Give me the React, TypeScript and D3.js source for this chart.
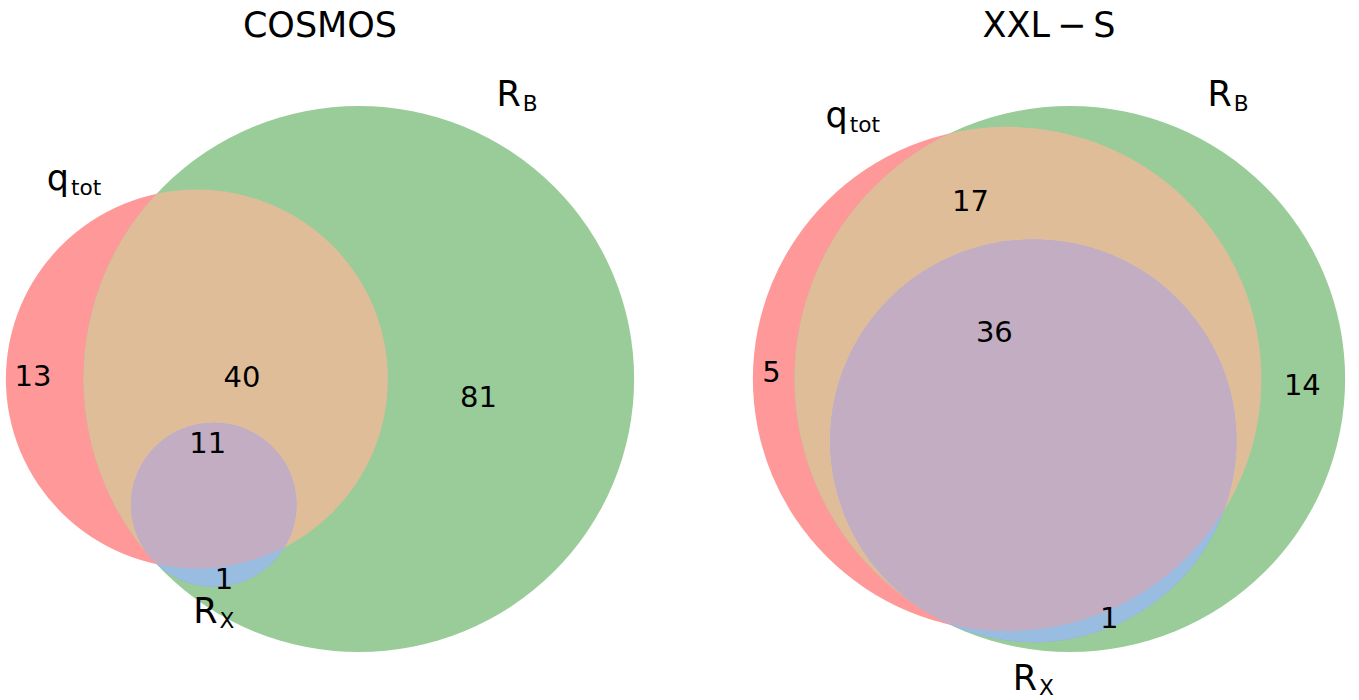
import React from 'react'
import * as d3 from 'd3'

// set names: [main text, subscript]
const setNames = [['q', 'tot'], ['R', 'B'], ['R', 'X']]
// region order as in matplotlib_venn: Abc, aBc, ABc, abC, AbC, aBC, ABC  (bit 1 = A, 2 = B, 4 = C)
const regionMasks = [1, 2, 3, 4, 5, 6, 7]
const panelTitles = ['COSMOS', 'XXL\u2009\u2212\u2009S']
const cosmosCounts = [13, 81, 40, 0, 0, 1, 11]
const xxlCounts = [5, 14, 17, 0, 0, 1, 36]
const panelCounts = [cosmosCounts, xxlCounts]

// styling / layout
const W = 1359
const H = 700
const panelCenterX = [320, 1049]
const panelMidY = 379
const panelHeight = 546
const xStretch = 1.0085
const titleY = 37
const font = 'DejaVu Sans, sans-serif'
const bigFont = 35
const numFont = 29
const setColors = [[1, 0, 0], [0, 0.5, 0], [0, 0, 1]]
const alpha = 0.4
const TOL = 1e-10

type Circ = { x: number; y: number; r: number }

function lensArea(R: number, r: number, d: number) {
  if (d >= R + r) return 0
  if (d <= Math.abs(R - r)) return Math.PI * Math.min(R, r) ** 2
  const a1 = r * r * Math.acos((d * d + r * r - R * R) / (2 * d * r))
  const a2 = R * R * Math.acos((d * d + R * R - r * r) / (2 * d * R))
  const a3 = 0.5 * Math.sqrt((-d + r + R) * (d + r - R) * (d - r + R) * (d + r + R))
  return a1 + a2 - a3
}

function distanceByArea(r1: number, r2: number, a: number) {
  const r = Math.min(r1, r2), R = Math.max(r1, r2)
  if (Math.abs(a) < TOL) return r + R
  if (Math.abs(Math.PI * r * r - a) < TOL) return R - r
  let lo = R - r, hi = R + r
  for (let i = 0; i < 200; i++) {
    const mid = (lo + hi) / 2
    if (lensArea(R, r, mid) > a) lo = mid
    else hi = mid
  }
  return (lo + hi) / 2
}

// same steps as matplotlib_venn's venn3 layout
function solveVenn3(counts: number[]): Circ[] {
  const total = d3.sum(counts)
  const share = (test: (m: number) => boolean) =>
    d3.sum(regionMasks.map((m, i) => (test(m) ? counts[i] : 0))) / total
  const areas = [0, 1, 2].map(s => share(m => !!(m & (1 << s))))
  const radii = areas.map(a => Math.sqrt(a / Math.PI))
  const pairs = [[0, 1], [1, 2], [2, 0]]
  const dists = pairs.map(([i, j]) =>
    distanceByArea(radii[i], radii[j], share(m => !!(m & (1 << i)) && !!(m & (1 << j)))))
  for (let i = 0; i < 3; i++) {
    const j = (i + 1) % 3, k = (i + 2) % 3
    if (dists[i] > dists[j] + dists[k]) {
      const [a, b] = dists[j] < dists[k] ? [j, k] : [k, j]
      dists[i] = dists[b] + dists[a] * 0.8
    }
  }
  const [dab, dbc, dac] = dists
  const cx = (dac * dac - dbc * dbc + dab * dab) / (2 * dab)
  const cy = dac * dac < cx * cx ? 0 : -Math.sqrt(dac * dac - cx * cx)
  const raw = [[0, 0], [dab, 0], [cx, cy]]
  const w = radii.map(r => r * r)
  const sw = d3.sum(w)
  const mx = d3.sum(raw, (c, i) => c[0] * w[i]) / sw
  const my = d3.sum(raw, (c, i) => c[1] * w[i]) / sw
  return raw.map(([x, y], i) => ({ x: x - mx, y: y - my, r: radii[i] }))
}

function regionColor(mask: number) {
  const members = [0, 1, 2].filter(s => mask & (1 << s))
  const f = members.length === 1 ? 1 : members.length === 2 ? 0.7 : 0.4
  const mix = [0, 1, 2].map(ch => Math.min(1, f * d3.sum(members, s => setColors[s][ch])))
  const c = mix.map(v => Math.round(255 * (alpha * v + 1 - alpha)))
  return d3.rgb(c[0], c[1], c[2]).formatHex()
}

const inside = (c: Circ, x: number, y: number) => Math.hypot(x - c.x, y - c.y) < c.r + 1e-9
const inRegion = (cs: Circ[], mask: number, x: number, y: number) =>
  cs.every((c, j) => inside(c, x, y) === !!(mask & (1 << j)))

// label spot of a region: mean of its arc midpoints weighted by arc span (degrees),
// on the largest piece; if that falls outside, pushed into the region along a ray
function regionLabel(cs: Circ[], mask: number, h: number) {
  const members = cs.filter((_, j) => mask & (1 << j))
  const x0 = d3.max(members, c => c.x - c.r)!, x1 = d3.min(members, c => c.x + c.r)!
  const y0 = d3.max(members, c => c.y - c.r)!, y1 = d3.min(members, c => c.y + c.r)!
  if (x1 <= x0 || y1 <= y0) return null
  const nx = Math.ceil((x1 - x0) / h) + 1, ny = Math.ceil((y1 - y0) / h) + 1
  const comp = new Int32Array(nx * ny)
  for (let j = 0; j < ny; j++)
    for (let i = 0; i < nx; i++)
      if (inRegion(cs, mask, x0 + i * h, y0 + j * h)) comp[j * nx + i] = -1
  const sizes = [0]
  const stack: number[] = []
  for (let s = 0; s < comp.length; s++) {
    if (comp[s] !== -1) continue
    const id = sizes.length
    let size = 0
    comp[s] = id
    stack.push(s)
    while (stack.length) {
      const p = stack.pop()!
      size++
      const pi = p % nx, pj = (p - pi) / nx
      const nb = [pi > 0 ? p - 1 : -1, pi < nx - 1 ? p + 1 : -1, pj > 0 ? p - nx : -1, pj < ny - 1 ? p + nx : -1]
      for (const q of nb) if (q >= 0 && comp[q] === -1) { comp[q] = id; stack.push(q) }
    }
    sizes.push(size)
  }
  const main = d3.maxIndex(sizes)
  if (sizes[main] < 20) return null
  const compAt = (x: number, y: number) => {
    const i = Math.round((x - x0) / h), j = Math.round((y - y0) / h)
    if (i < 0 || j < 0 || i >= nx || j >= ny) return 0
    return comp[j * nx + i]
  }

  // tangent points split arcs
  const cuts: number[][] = cs.map(() => [])
  cs.forEach((a, i) => cs.forEach((b, j) => {
    if (j <= i) return
    const d = Math.hypot(b.x - a.x, b.y - a.y)
    const internal = Math.abs(d - Math.abs(a.r - b.r)) < 1e-9 && d > 0
    const external = Math.abs(d - (a.r + b.r)) < 1e-9
    if (!internal && !external) return
    const big = a.r >= b.r ? a : b, small = big === a ? b : a
    const px = big.x + (big.r * (small.x - big.x)) / d
    const py = big.y + (big.r * (small.y - big.y)) / d
    cuts[i].push(Math.atan2(py - a.y, px - a.x))
    cuts[j].push(Math.atan2(py - b.y, px - b.x))
  }))

  const N = 3600
  let sw = 0, sx = 0, sy = 0
  cs.forEach((c, k) => {
    const ang = (i: number) => ((i + 0.5) / N) * 2 * Math.PI
    const flags = d3.range(N).map(i => {
      const t = ang(i)
      const px = c.x + c.r * Math.cos(t), py = c.y + c.r * Math.sin(t)
      return cs.every((o, j) => j === k || inside(o, px, py) === !!(mask & (1 << j)))
    })
    const cutBefore = new Array(N).fill(false)
    cuts[k].forEach(a => {
      const aa = ((a % (2 * Math.PI)) + 2 * Math.PI) % (2 * Math.PI)
      cutBefore[Math.floor((aa / (2 * Math.PI)) * N + 0.5) % N] = true
    })
    const runs: { start: number; count: number }[] = []
    const s0 = flags.findIndex((f, i) => !f || cutBefore[i])
    if (s0 < 0) {
      runs.push({ start: 0, count: N })
    } else {
      let count = 0, start = 0
      for (let step = 0; step < N; step++) {
        const idx = (s0 + step) % N
        if (flags[idx]) {
          if (count > 0 && cutBefore[idx]) { runs.push({ start, count }); count = 0 }
          if (count === 0) start = s0 + step
          count++
        } else if (count > 0) { runs.push({ start, count }); count = 0 }
      }
      if (count > 0) runs.push({ start, count })
    }
    const inward = mask & (1 << k) ? 1 : -1
    runs.forEach(({ start, count }) => {
      const t = ((start + (count - 1) / 2 + 0.5) / N) * 2 * Math.PI
      const mx = c.x + c.r * Math.cos(t), my = c.y + c.r * Math.sin(t)
      const probe = 2.5 * h * inward
      if (compAt(mx - probe * Math.cos(t), my - probe * Math.sin(t)) !== main) return
      const span = (count * 360) / N
      sw += span
      sx += span * mx
      sy += span * my
    })
  })
  if (sw === 0) return null
  const px = sx / sw, py = sy / sw
  if (inRegion(cs, mask, px, py) && compAt(px, py) === main) return { x: px, y: py }

  const mis = cs.findIndex((c, j) => inside(c, px, py) !== !!(mask & (1 << j)))
  const c = cs[mis]
  let dx = px - c.x, dy = py - c.y
  const L = Math.hypot(dx, dy)
  dx /= L; dy /= L
  if (!inside(c, px, py)) { dx = -dx; dy = -dy }
  let t1 = -1, t2 = -1
  for (let t = 0; t < 3; t += h / 2) {
    const ok = inRegion(cs, mask, px + dx * t, py + dy * t)
    if (ok && t1 < 0) t1 = t
    if (!ok && t1 >= 0) { t2 = t; break }
  }
  if (t1 < 0 || t2 < 0) return { x: px, y: py }
  const tm = t2 / 2
  return { x: px + dx * tm, y: py + dy * tm }
}

function SetLabel({ x, y, anchor, name }: { x: number; y: number; anchor: string; name: string[] }) {
  return (
    <text x={x} y={y} textAnchor={anchor} fontSize={bigFont} fontFamily={font} fill="#000">
      <tspan>{name[0]}</tspan>
      <tspan fontSize={bigFont * 0.62} dx={2} dy={5}>{name[1]}</tspan>
    </text>
  )
}

function VennPanel({ idx }: { idx: number }) {
  const counts = panelCounts[idx]
  const circles = solveVenn3(counts)
  const minX = d3.min(circles, c => c.x - c.r)!
  const maxX = d3.max(circles, c => c.x + c.r)!
  const minY = d3.min(circles, c => c.y - c.r)!
  const maxY = d3.max(circles, c => c.y + c.r)!
  const k = panelHeight / (maxY - minY)
  const halfW = (k * xStretch * (maxX - minX)) / 2
  const x = d3.scaleLinear().domain([minX, maxX]).range([panelCenterX[idx] - halfW, panelCenterX[idx] + halfW])
  const y = d3.scaleLinear().domain([minY, maxY]).range([panelMidY + panelHeight / 2, panelMidY - panelHeight / 2])
  const id = (s: number) => `clip-${idx}-${s}`
  const shape = (c: Circ, fill?: string) => (
    <ellipse cx={x(c.x)} cy={y(c.y)} rx={c.r * k * xStretch} ry={c.r * k} fill={fill} />
  )

  // paint order: single sets, then pairwise, then triple
  const paint = [1, 2, 4, 3, 5, 6, 7]

  const labels = regionMasks
    .map((m, i) => ({ m, count: counts[i], pos: regionLabel(circles, m, 1 / k) }))
    .filter(d => d.pos)

  const [cA, cB, cC] = circles
  return (
    <g>
      <defs>
        {circles.map((c, s) => (
          <clipPath id={id(s)} key={s}>{shape(c)}</clipPath>
        ))}
      </defs>
      {paint.map(m => {
        const members = [0, 1, 2].filter(s => m & (1 << s))
        const last = members[members.length - 1]
        let node: React.ReactNode = shape(circles[last], regionColor(m))
        members.slice(0, -1).forEach(s => {
          node = <g clipPath={`url(#${id(s)})`}>{node}</g>
        })
        return <g key={m}>{node}</g>
      })}
      {labels.map(d => (
        <text key={d.m} x={x(d.pos!.x)} y={y(d.pos!.y) + 0.276 * numFont} textAnchor="middle"
          fontSize={numFont} fontFamily={font} fill="#000">{d.count}</text>
      ))}
      <SetLabel x={x(cA.x - cA.r / 2)} y={y(cA.y + cA.r)} anchor="end" name={setNames[0]} />
      <SetLabel x={x(cB.x + cB.r / 2)} y={y(cB.y + cB.r)} anchor="start" name={setNames[1]} />
      <SetLabel x={x(cC.x)} y={y(cC.y - 1.1 * cC.r) + 0.8 * bigFont} anchor="middle" name={setNames[2]} />
      <text x={panelCenterX[idx]} y={titleY} textAnchor="middle" fontSize={bigFont} fontFamily={font} fill="#000">
        {panelTitles[idx]}
      </text>
    </g>
  )
}

export default function App() {
  return (
    <svg width={W} height={H} style={{ position: 'absolute', left: 0, top: 0, background: '#fff' }}>
      <rect width={W} height={H} fill="#fff" />
      {panelCounts.map((_, i) => <VennPanel key={i} idx={i} />)}
    </svg>
  )
}
